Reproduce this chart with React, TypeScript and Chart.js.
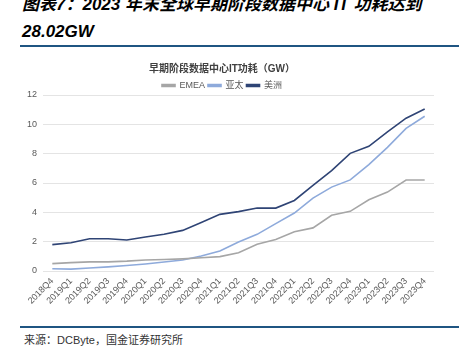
import React, { useEffect, useRef } from "react";
import { Chart, registerables } from "chart.js";

Chart.register(...registerables);

const categories = [
  "2018Q4", "2019Q1", "2019Q2", "2019Q3", "2019Q4",
  "2020Q1", "2020Q2", "2020Q3", "2020Q4",
  "2021Q1", "2021Q2", "2021Q3", "2021Q4",
  "2022Q1", "2022Q2", "2022Q3", "2022Q4",
  "2023Q1", "2023Q2", "2023Q3", "2023Q4",
];

const emea = [0.5, 0.57, 0.62, 0.62, 0.67, 0.75, 0.78, 0.83, 0.9, 0.98, 1.25, 1.83, 2.15, 2.67, 2.94, 3.8, 4.07, 4.86, 5.38, 6.2, 6.2];
const asiaPacific = [0.15, 0.13, 0.2, 0.28, 0.37, 0.48, 0.61, 0.75, 1.02, 1.36, 1.98, 2.5, 3.23, 3.95, 4.97, 5.72, 6.21, 7.25, 8.43, 9.72, 10.55];
const americas = [1.8, 1.93, 2.2, 2.2, 2.11, 2.32, 2.5, 2.77, 3.3, 3.86, 4.05, 4.29, 4.29, 4.81, 5.83, 6.85, 8.02, 8.5, 9.49, 10.42, 11.05];

const seriesNames = ["EMEA", "亚太", "美洲"];
const yTicks = [0, 2, 4, 6, 8, 10, 12];

const FONT = '"Liberation Sans", "Noto Sans CJK SC", Arial, sans-serif';

const legendTighten = {
  id: "legendTighten",
  afterInit(chart: any) {
    const lg = chart.legend;
    if (lg && !lg.__tight) {
      const orig = lg.fit.bind(lg);
      lg.fit = function () {
        orig();
        this.height = Math.max(0, this.height - 5);
      };
      lg.__tight = true;
    }
  },
};

export default function App() {
  const ref = useRef<HTMLCanvasElement | null>(null);

  useEffect(() => {
    if (!ref.current) return;
    const colors = ["#a6a6a6", "#8eaadb", "#2f4475"];
    const data = [emea, asiaPacific, americas];
    const chart = new Chart(ref.current, {
      type: "line",
      data: {
        labels: categories,
        datasets: seriesNames.map((name, i) => ({
          label: name,
          data: data[i],
          borderColor: colors[i],
          backgroundColor: colors[i],
          borderWidth: 1.6,
          pointRadius: 0,
          tension: 0,
          fill: false,
        })),
      },
      plugins: [legendTighten],
      options: {
        animation: false,
        responsive: false,
        maintainAspectRatio: false,
        layout: { padding: { top: 6, right: 11, bottom: 0, left: 0 } },
        plugins: {
          title: {
            display: true,
            text: "早期阶段数据中心IT功耗（GW）",
            color: "#404040",
            font: { family: FONT, size: 10, weight: "bold" },
            padding: { top: 2, bottom: 3 },
          },
          legend: {
            display: true,
            position: "top",
            labels: {
              boxWidth: 13,
              boxHeight: 2,
              padding: 3,
              color: "#595959",
              font: { family: FONT, size: 9 },
            },
          },
          tooltip: { enabled: false },
        },
        scales: {
          x: {
            offset: true,
            grid: { display: false, drawTicks: false },
            border: { display: false },
            ticks: {
              autoSkip: false,
              maxRotation: 45,
              minRotation: 45,
              padding: 5,
              color: "#595959",
              font: { family: FONT, size: 9 },
            },
            afterFit: (s: any) => { s.height = 49; },
          },
          y: {
            min: 0,
            max: 12,
            afterBuildTicks: (s: any) => { s.ticks = yTicks.map((v) => ({ value: v })); },
            grid: { color: "#e4e4e4", drawTicks: false, lineWidth: 1 },
            border: { display: false },
            ticks: {
              padding: 6,
              color: "#595959",
              font: { family: FONT, size: 9 },
            },
            afterFit: (s: any) => { s.width = 33; },
          },
        },
      },
    });
    return () => chart.destroy();
  }, []);

  return (
    <div style={{ position: "fixed", left: 0, top: 0, width: 459, height: 352, background: "#fff", overflow: "hidden" }}>
      <div
        style={{
          position: "absolute",
          left: 22,
          top: -9,
          width: 437,
          fontFamily: FONT,
          fontSize: 17,
          fontWeight: "bold",
          fontStyle: "italic",
          lineHeight: "27px",
          color: "#000",
          whiteSpace: "nowrap",
        }}
      >
        <div>图表7：2023 年末全球早期阶段数据中心 IT 功耗达到</div>
        <div>28.02GW</div>
      </div>
      <div style={{ position: "absolute", left: 20, top: 45, width: 439, height: 2, background: "#1f5582" }} />
      <canvas ref={ref} width={435} height={265} style={{ position: "absolute", left: 10, top: 55, width: 435, height: 265 }} />
      <div style={{ position: "absolute", left: 20, top: 326, width: 439, height: 2, background: "#1f5582" }} />
      <div
        style={{
          position: "absolute",
          left: 24,
          top: 333,
          fontFamily: FONT,
          fontSize: 11,
          lineHeight: "14px",
          color: "#333",
          whiteSpace: "nowrap",
        }}
      >
        来源：DCByte，国金证券研究所
      </div>
    </div>
  );
}
